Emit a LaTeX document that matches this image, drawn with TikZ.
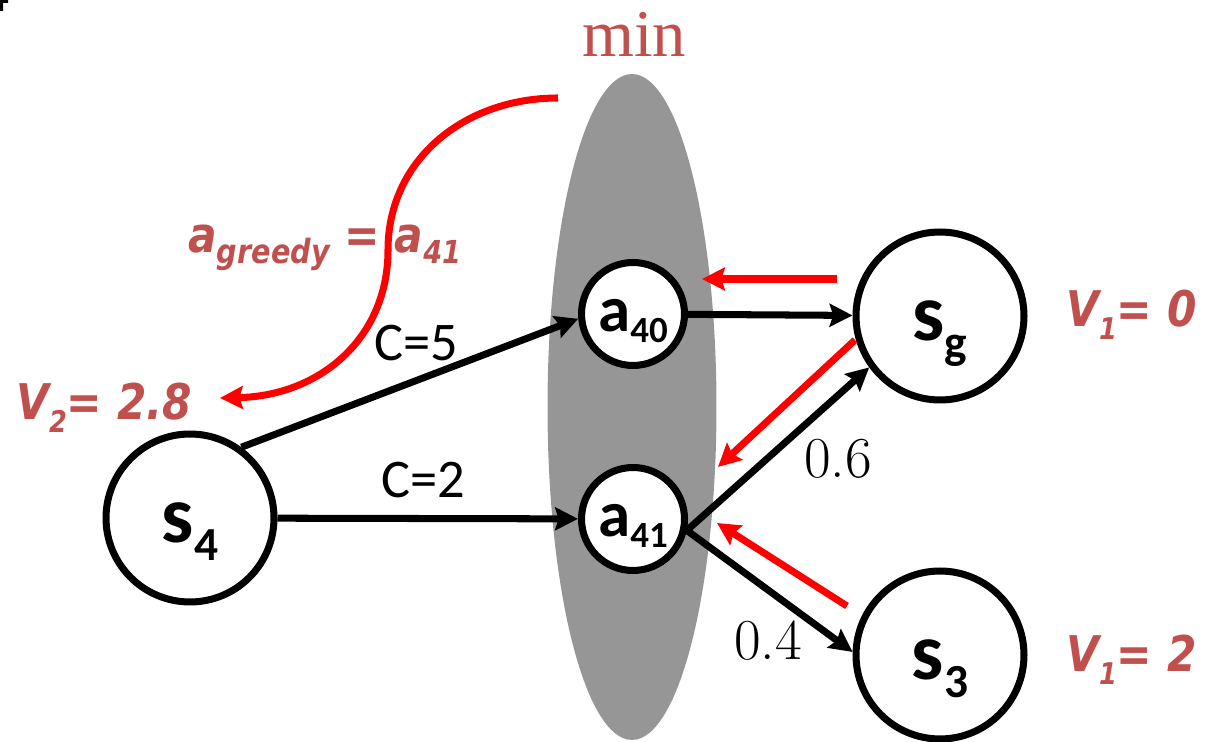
\documentclass[tikz,border=0pt]{standalone}
\usepackage{fontspec}
\usepackage{graphicx}
\usepackage{tikz}
\usetikzlibrary{arrows.meta,shapes.geometric}

\newfontfamily\statefont{Carlito}
\newfontfamily\valuefont{DejaVu Sans}
\newfontfamily\minfont{Liberation Serif}

\definecolor{valred}{HTML}{C0504D}
\definecolor{mingray}{HTML}{969696}

% lowered subscript: size, drop, text
\newcommand{\dropsub}[3]{\raisebox{-#2}{\fontsize{#1}{#1}\selectfont #3}}
% narrower red value text
\newcommand{\valtext}[1]{\scalebox{0.86}[1]{#1}}

\begin{document}
\begin{tikzpicture}[
  x=0.02cm, y=-0.02cm,
  bigstate/.style ={draw,circle,line width=4pt,fill=white,minimum size=3.36cm,
                    inner sep=0pt,text height=28pt,text depth=0pt,
                    font=\statefont\bfseries\fontsize{46}{46}\selectfont},
  actstate/.style ={draw,circle,line width=4pt,fill=white,minimum size=2.06cm,
                    inner sep=0pt,text height=20pt,text depth=0pt,
                    font=\statefont\bfseries\fontsize{37}{37}\selectfont},
  flow/.style     ={-{Stealth[length=13pt,width=13pt,inset=2pt]},line width=4pt},
  backflow/.style ={flow,red},
  costlabel/.style={font=\statefont\fontsize{31}{31}\selectfont},
  problabel/.style={font=\rmfamily\fontsize{33}{33}\selectfont},
  valuelabel/.style={anchor=base west,text=valred,inner sep=0pt,
                    font=\valuefont\bfseries\itshape\fontsize{28}{28}\selectfont},
]
\useasboundingbox (0,0) rectangle (1207,742);

%% --- min over actions ---
\node[ellipse,fill=mingray,inner sep=0pt,minimum width=3.38cm,
      minimum height=13.32cm] (minset) at (632,407) {};
\node[anchor=base,text=valred,font=\minfont\fontsize{38}{38}\selectfont]
      (minlbl) at (634,57) {min};
\fill (0,0) rectangle (8,3) (0,0) rectangle (3,11);

%% --- states and actions ---
\node[bigstate] (s4)  at (190,518) {s\dropsub{27}{10pt}{4}};
\node[actstate] (a40) at (633,314) {a\dropsub{21}{6pt}{40}};
\node[actstate] (a41) at (633,519) {a\dropsub{21}{6pt}{41}};
\node[bigstate] (sg)  at (940,316) {s\dropsub{27}{10pt}{g}};
\node[bigstate] (s3)  at (940,655) {s\dropsub{27}{10pt}{3}};

%% --- forward arrows ---
\draw[flow] (s4.54)   -- (a40.185);
\draw[flow] (s4)      -- (a41);
\draw[flow] (a40)     -- (sg);
\draw[flow] (a41.-12) -- (sg.216);
\draw[flow] (a41.-12) -- (s3.178);

\node[costlabel] (c5)  at (416,343) {C=5};
\node[costlabel] (c2)  at (423,480) {C=2};
\node[problabel] (p06) at (838,459) {0.6};
\node[problabel] (p04) at (768,641) {0.4};

%% --- backups (red) ---
\coordinate (r1a) at (837,279);  \coordinate (r1b) at (702,279);
\coordinate (r2a) at (855,340);  \coordinate (r2b) at (718,467);
\coordinate (r3a) at (847,606);  \coordinate (r3b) at (717,523);
\draw[backflow] (r1a) -- (r1b);
\draw[backflow] (r2a) -- (r2b);
\draw[backflow] (r3a) -- (r3b);

%% --- values ---
\node[valuelabel] (v1g)  at (1066,327) {\valtext{V\dropsub{17}{7pt}{1}= 0}};
\node[valuelabel] (v1s3) at (1066,672) {\valtext{V\dropsub{17}{7pt}{1}= 2}};
\node[valuelabel] (v2s4) at (16,420)   {\valtext{V\dropsub{17}{7pt}{2}= 2.8}};
\node[valuelabel] (greedy) at (188,253)
      {\valtext{a\dropsub{19}{6pt}{greedy} = a\dropsub{18}{6pt}{41}}};

\coordinate (ga) at (558,98);
\coordinate (gb) at (220,398);
\draw[backflow] (ga) .. controls (464,98) and (388,160) .. (388,250)
                     .. controls (388,338) and (320,396) .. (gb);

\end{tikzpicture}
\end{document}
